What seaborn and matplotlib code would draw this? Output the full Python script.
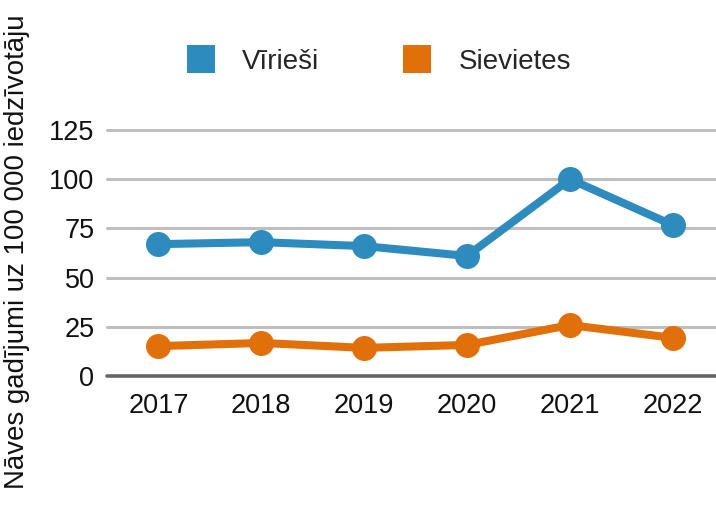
import pandas as pd
import seaborn as sns
import matplotlib.pyplot as plt
from matplotlib.lines import Line2D

# Data
years = [2017, 2018, 2019, 2020, 2021, 2022]
viriesi = [67, 68, 66, 61, 100, 76.7]
sievietes = [15.2, 16.8, 14.3, 15.8, 25.9, 19.4]
series_names = ["Vīrieši", "Sievietes"]
colors = ["#2E8BBE", "#E1700B"]

df = pd.DataFrame({
    "Gads": years * 2,
    "Vērtība": viriesi + sievietes,
    "Dzimums": [series_names[0]] * len(years) + [series_names[1]] * len(years),
})

sns.set_style("white")
plt.rcParams["font.family"] = ["Liberation Sans", "DejaVu Sans"]

fig = plt.figure(figsize=(7.16, 5.05), dpi=100)
ax = fig.add_axes([0.1494, 0.2554, 0.8506, 0.4872])

sns.lineplot(data=df, x="Gads", y="Vērtība", hue="Dzimums", palette=colors,
             marker="o", markersize=18, markeredgewidth=0, linewidth=5.8,
             legend=False, ax=ax, zorder=3)

ax.set_xlim(2016.5, 2022.42)
ax.set_ylim(0, 125)
ax.set_xticks(years)
ax.set_yticks([0, 25, 50, 75, 100, 125])
ax.tick_params(axis="both", labelsize=19.5, length=0, colors="#111111")
ax.tick_params(axis="x", pad=12)
ax.tick_params(axis="y", pad=9)

# Gridlines
for y in [25, 50, 75, 100, 125]:
    ax.axhline(y, color="#BFBFBF", linewidth=2.2, zorder=1, clip_on=False)
ax.axhline(0, color="#666666", linewidth=2.6, zorder=2, clip_on=False)

for s in ax.spines.values():
    s.set_visible(False)

ax.set_xlabel("")
ax.set_ylabel("Nāves gadījumi uz 100 000 iedzīvotāju", fontsize=19.9, color="#111111")
ax.yaxis.set_label_coords(-0.126, 0.506)

handles = [Line2D([], [], marker="s", linestyle="", markersize=19.5,
                  markerfacecolor=c, markeredgewidth=0) for c in colors]
fig.legend(handles, series_names, loc="center", bbox_to_anchor=(0.529, 0.877),
           ncol=2, frameon=False, fontsize=20, handlelength=1.0,
           handletextpad=1.0, columnspacing=3.0)

fig.savefig("out.png", dpi=100)
